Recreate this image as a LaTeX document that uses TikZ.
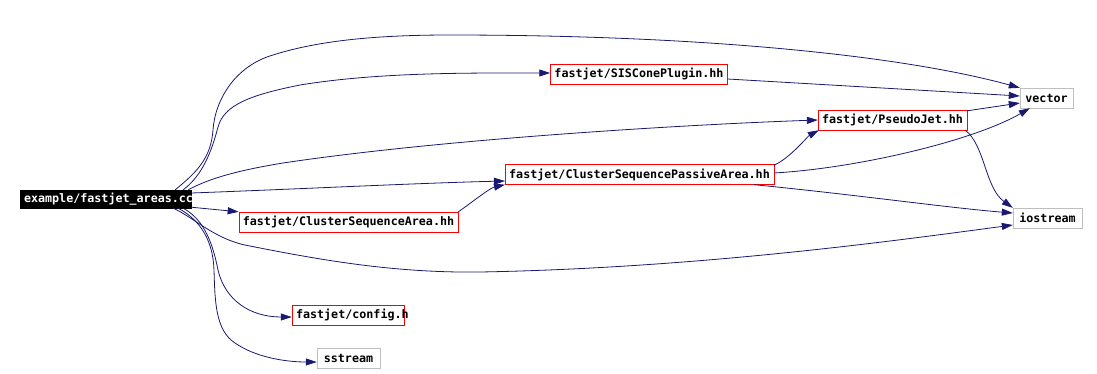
\documentclass[tikz,border=0pt]{standalone}
\usepackage{fontspec}
\setmonofont{DejaVu Sans Mono}
\usepackage{tikz}
\usetikzlibrary{arrows.meta, calc}

\definecolor{edgeblue}{HTML}{191970}
\definecolor{boxgray}{HTML}{BFBFBF}

\begin{document}
\begin{tikzpicture}[x=1pt, y=-1pt,
    font=\fontsize{11.7}{13}\selectfont\ttfamily\bfseries,
    srcfile/.style={draw=black, fill=black, text=white, inner xsep=4pt, inner ysep=2pt,
                    minimum height=18pt, text width=163pt},
    hdrfile/.style={draw=red, fill=white, inner xsep=4pt, inner ysep=2pt, minimum height=20pt},
    sysfile/.style={draw=boxgray, fill=white, inner xsep=4pt, inner ysep=2pt, minimum height=20pt},
    dep/.style={draw=edgeblue, line width=0.8pt, -{Triangle[length=11pt,width=7pt]}}]

\useasboundingbox (0,0) rectangle (1097,373);

% Source file and its headers
\node[srcfile] (main) at (105.5,199) {example/fastjet\_areas.cc};
\node[hdrfile] (SISCone) at (639,74) {fastjet/SISConePlugin.hh};
\node[hdrfile] (CSPassive) at (639.5,174.5) {fastjet/ClusterSequencePassiveArea.hh};
\node[hdrfile] (PseudoJet) at (892.5,120) {fastjet/PseudoJet.hh};
\node[hdrfile] (CSArea) at (348.5,222) {fastjet/ClusterSequenceArea.hh};
\node[hdrfile, text width=104pt] (config) at (348,315) {fastjet/config.h};

% System headers
\node[sysfile, minimum width=53pt] (vector) at (1046.5,98) {vector};
\node[sysfile, minimum width=69pt] (iostream) at (1047.5,218) {iostream};
\node[sysfile, minimum width=63pt] (sstream) at (348.5,358.5) {sstream};

% Includes of the source file
\draw[dep] ($(main.north east)+(-16,0)$) .. controls (197,172) and (211,158) .. (213,130)
    .. controls (215,100) and (235,66) .. (273,55)
    .. controls (320,40) and (380,35) .. (450,35)
    .. controls (700,35) and (900,55) .. (vector.north west);
\draw[dep] ($(main.north east)+(-8,0)$) .. controls (203,175) and (212,150) .. (218,127)
    .. controls (224,105) and (250,95) .. (300,85)
    .. controls (380,72) and (470,73) .. ($(SISCone.west)+(0,-1)$);
\draw[dep] ($(main.north east)+(-3,0)$) .. controls (210,178) and (240,170) .. (283,163)
    .. controls (450,138) and (700,124) .. (PseudoJet.west);
\draw[dep] ($(main.east)+(0,-6)$) .. controls (300,189) and (420,183) .. ($(CSPassive.west)+(0,6.5)$);
\draw[dep] ($(main.south east)+(0,-1)$) -- (CSArea.north west);
\draw[dep] ($(main.south east)+(-18,0)$) .. controls (195,218) and (215,240) .. (250,246)
    .. controls (330,262) and (400,273) .. (480,272)
    .. controls (700,268) and (900,240) .. ($(iostream.west)+(0,7)$);
\draw[dep] ($(main.south east)+(-8,0)$) .. controls (205,220) and (213,245) .. (218,270)
    .. controls (225,300) and (250,317) .. ($(config.west)+(0,2)$);
\draw[dep] ($(main.south east)+(-13,0)$) .. controls (200,220) and (213,240) .. (214,270)
    .. controls (215,300) and (215,330) .. (235,343)
    .. controls (255,357) and (285,362) .. ($(sstream.west)+(0,3.5)$);

% Includes between headers
\draw[dep] ($(SISCone.east)+(0,5)$) -- ($(vector.west)+(0,-2)$);
\draw[dep] (CSArea.north east) .. controls (475,200) and (490,188) .. (CSPassive.south west);
\draw[dep] ($(CSPassive.north east)+(0,1)$) .. controls (790,158) and (808,136) .. ($(PseudoJet.south west)+(1,0)$);
\draw[dep] ($(CSPassive.east)+(0,-1.5)$) .. controls (860,168) and (975,140) .. ($(vector.south west)+(10,0)$);
\draw[dep] ($(CSPassive.south east)+(-20,0)$) .. controls (850,194) and (950,208) .. ($(iostream.west)+(0,-5)$);
\draw[dep] ($(PseudoJet.north east)+(0,1)$) -- ($(vector.west)+(0,5)$);
\draw[dep] ($(PseudoJet.south east)+(-2,0)$) .. controls (985,145) and (985,188) .. (iostream.north west);

\end{tikzpicture}
\end{document}
